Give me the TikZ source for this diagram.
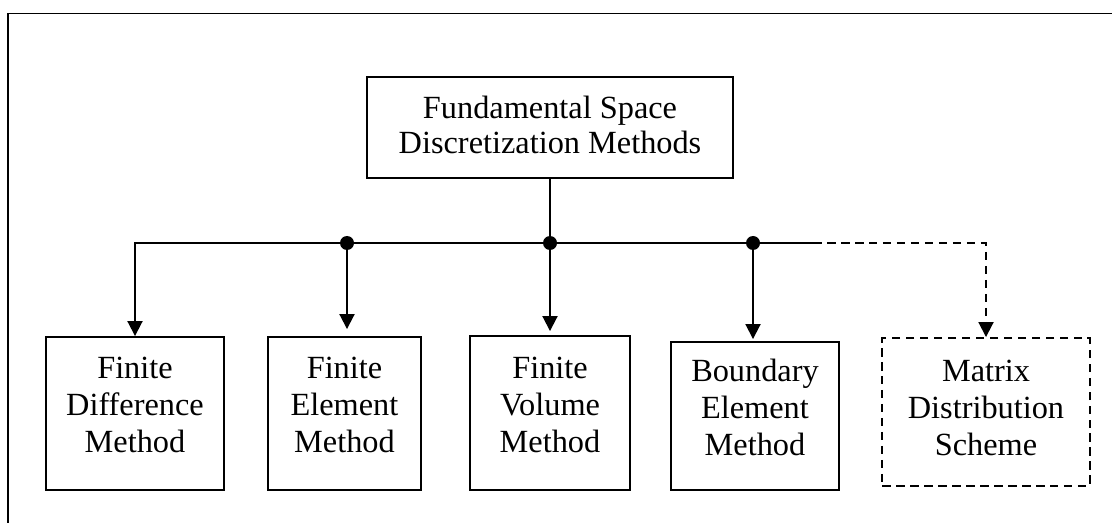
\documentclass[tikz,border=0pt]{standalone}
\usepackage{fontspec}
\setmainfont{Liberation Serif}
\usetikzlibrary{arrows.meta}

\begin{document}
\begin{tikzpicture}[x=0.02cm, y=-0.02cm, line width=1.1pt,
    box/.style={draw, align=center, inner sep=0pt, text depth=0.34cm, font=\fontsize{18.4}{21}\selectfont},
    link/.style={-{Triangle[width=0.3cm,length=0.3cm]}},
    maybe/.style={dash pattern=on 0.17cm off 0.11cm}]
    \useasboundingbox (0,0) rectangle (1112,523);

    % frame
    \draw (1112,13.5) -- (8,13.5) -- (8,523);

    % main box
    \node[box, minimum width=7.32cm, minimum height=2.02cm, text depth=0.12cm, font=\fontsize{18.4}{20}\selectfont]
        (fsdm) at (550,127.5) {Fundamental Space\\Discretization Methods};

    % methods
    \node[box, minimum width=3.56cm, minimum height=3.06cm] (fdm) at (135,413.5) {Finite\\Difference\\Method};
    \node[box, minimum width=3.06cm, minimum height=3.06cm] (fem) at (344.5,413.5) {Finite\\Element\\Method};
    \node[box, minimum width=3.2cm, minimum height=3.08cm] (fvm) at (550,413) {Finite\\Volume\\Method};
    \node[box, minimum width=3.36cm, minimum height=2.96cm] (bem) at (755,416) {Boundary\\Element\\Method};
    \node[box, maybe, minimum width=4.16cm, minimum height=2.96cm, text depth=0.16cm] (mds) at (986,412) {Matrix\\Distribution\\Scheme};

    % bus
    \coordinate (jfe) at (347,243);
    \coordinate (jfv) at (550,243);
    \coordinate (jbe) at (753,243);
    \coordinate (jend) at (813,243);

    \draw (fsdm.south) -- (jfv);
    \draw (jfe) -- (jbe) -- (jend);
    \draw[link] (jfe) -| (fdm.north);
    \draw[link] (jfe) -- ([yshift=0.14cm]jfe |- fem.north);
    \draw[link] (jfv) -- ([yshift=0.08cm]jfv |- fvm.north);
    \draw[link] (jbe) -- ([yshift=0.04cm]jbe |- bem.north);
    \draw[link, maybe] (jend) -| (mds.north);

    % joints
    \fill (jfe) circle (0.14cm);
    \fill (jfv) circle (0.14cm);
    \fill (jbe) circle (0.14cm);

\end{tikzpicture}
\end{document}
